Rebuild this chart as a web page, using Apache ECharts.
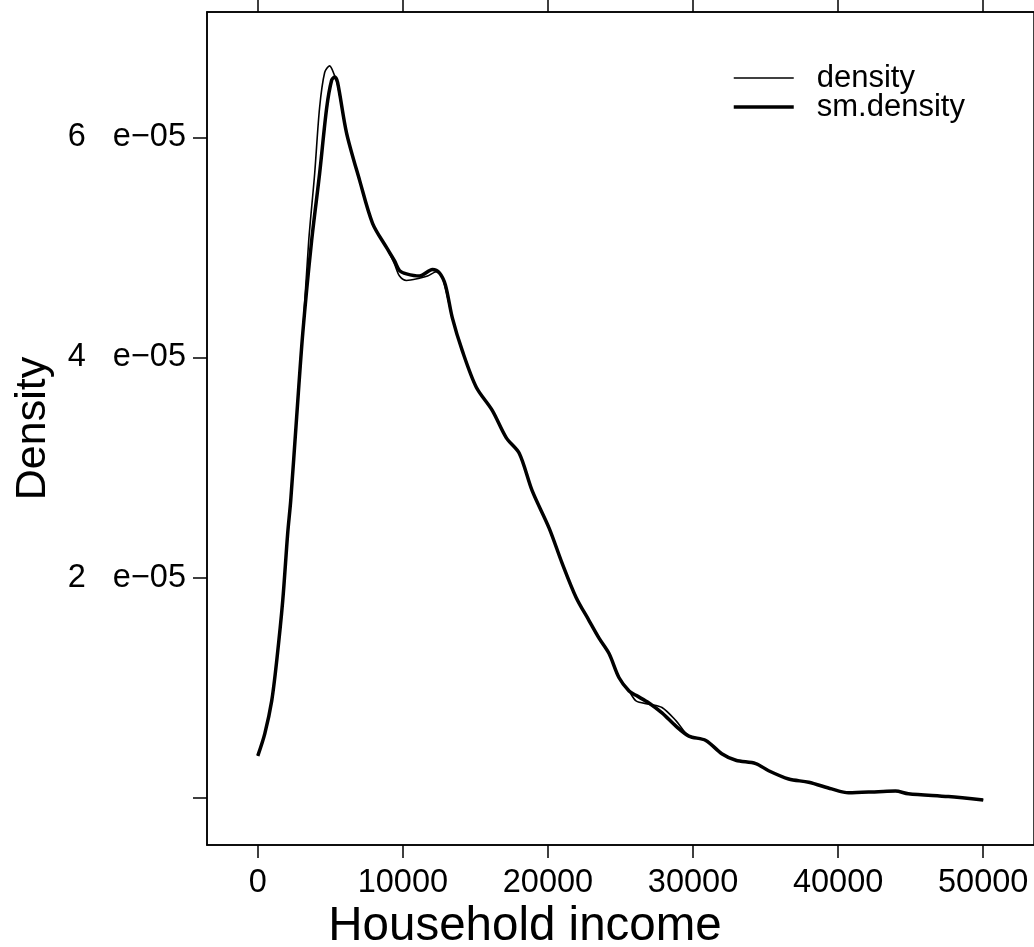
<!DOCTYPE html>
<html>
<head>
<meta charset="utf-8">
<script src="https://cdn.jsdelivr.net/npm/echarts@6/dist/echarts.min.js"></script>
<style>html,body{margin:0;padding:0;background:#fff}#c{width:1034px;height:947px}</style>
</head>
<body>
<div id="c"></div>
<script>
// Household income values (x) and density values (in units of 1e-05)
var densityX = [0,480,960,1310,1720,2060,2270,2680,3100,3510,3920,4260,4610,4950,5300,5500,6120,7020,7910,8870,9420,9770,10250,11140,11700,12310,12720,13410,14100,15060,16160,17130,18020,18910,20080,20980,21940,22830,23520,24210,24900,25590,26070,26960,27860,28820,29710,30880,31980,32950,34320,35210,36590,37970,39550,40720,42780,43950,44840,47600,50000];
var densityY = [0.38,0.58,0.88,1.25,1.79,2.40,2.70,3.46,4.22,5.06,5.67,6.27,6.59,6.65,6.56,6.48,6.04,5.61,5.22,5.00,4.85,4.74,4.70,4.72,4.74,4.78,4.73,4.36,4.06,3.73,3.52,3.27,3.13,2.79,2.45,2.13,1.82,1.61,1.45,1.31,1.09,0.97,0.88,0.85,0.82,0.70,0.56,0.52,0.40,0.34,0.31,0.245,0.17,0.14,0.08,0.045,0.055,0.06,0.036,0.01,-0.02];
var smX = [0,480,960,1310,1720,2060,2270,2680,3100,3710,4260,4750,5090,5300,5500,6120,7020,7910,8870,9420,9770,10250,11140,12040,12520,12930,13410,14100,15060,16160,17130,18020,18910,20080,20980,21940,22830,23520,24210,24900,25590,26070,26960,27860,28820,29710,30880,31980,32950,34320,35210,36590,37970,39550,40720,42780,43950,44840,47600,50000];
var smY = [0.38,0.58,0.88,1.25,1.79,2.40,2.70,3.46,4.22,5.06,5.67,6.27,6.52,6.55,6.50,6.04,5.61,5.22,5.00,4.88,4.79,4.76,4.74,4.80,4.77,4.66,4.36,4.06,3.73,3.52,3.27,3.13,2.79,2.45,2.13,1.82,1.61,1.45,1.31,1.09,0.97,0.93,0.86,0.77,0.65,0.56,0.52,0.40,0.34,0.31,0.245,0.17,0.14,0.08,0.045,0.055,0.06,0.036,0.01,-0.02];
var xTicks = [0,10000,20000,30000,40000,50000];
var yTicks = [0,2e-5,4e-5,6e-5];
var yLabels = [2e-5,4e-5,6e-5];

function pairs(xs, ys){ return xs.map(function(x,i){ return [x, ys[i]*1e-5]; }); }

var FONT = '"Liberation Sans", Arial, Helvetica, sans-serif';
var chart = echarts.init(document.getElementById('c'), null, {renderer:'canvas'});
chart.setOption({
  animation: false,
  backgroundColor: '#fff',
  title: [{
    text: 'Household income', left: 520, top: 898, textAlign: 'center',
    textStyle: {fontFamily: FONT, fontSize: 47.5, fontWeight: 'normal', color: '#000', lineHeight: 48}
  }],
  legend: {
    orient: 'vertical', left: 727, top: 56, itemWidth: 60, itemHeight: 28, itemGap: -5,
    itemStyle: {opacity: 0},
    textStyle: {fontFamily: FONT, fontSize: 31, color: '#000', lineHeight: 26, padding: [8,0,0,18]},
    data: [
      {name: 'density', lineStyle: {width: 1.5, color: '#000'}},
      {name: 'sm.density', lineStyle: {width: 3.5, color: '#000'}}
    ]
  },
  grid: {left: 207, top: 12, width: 828, height: 833, show: true, borderColor: '#000', borderWidth: 1.5, containLabel: false},
  xAxis: [{
    type: 'value', min: -3500, max: 53500, position: 'bottom',
    axisLine: {show: true, onZero: false, lineStyle: {color: '#000', width: 1.5}},
    axisTick: {show: true, length: 13, inside: false, customValues: xTicks, lineStyle: {color: '#000', width: 1.5}},
    axisLabel: {show: true, customValues: xTicks, margin: 22, fontFamily: FONT, fontSize: 32.5, color: '#000',
      formatter: function(v){ return String(v); }},
    splitLine: {show: false}
  },{
    type: 'value', min: -3500, max: 53500, position: 'top',
    axisLine: {show: true, onZero: false, lineStyle: {color: '#000', width: 1.5}},
    axisTick: {show: true, length: 12, inside: false, customValues: xTicks, lineStyle: {color: '#000', width: 1.5}},
    axisLabel: {show: false},
    splitLine: {show: false}
  }],
  yAxis: {
    type: 'value', min: -0.43e-5, max: 7.14e-5,
    name: 'Density', nameLocation: 'middle', nameGap: 152, nameRotate: 90,
    nameTextStyle: {fontFamily: FONT, fontSize: 43, color: '#000'},
    axisLine: {show: true, onZero: false, lineStyle: {color: '#000', width: 1.5}},
    axisTick: {show: true, length: 14, inside: false, customValues: yTicks, lineStyle: {color: '#000', width: 1.5}},
    axisLabel: {show: true, customValues: yLabels, margin: 21, fontFamily: FONT, fontSize: 32.5, color: '#000',
      formatter: function(v){ return Math.round(v*1e5) + '   e\u221205'; }},
    splitLine: {show: false}
  },
  series: [{
    name: 'density', type: 'line', data: pairs(densityX, densityY), smooth: 0.3,
    symbol: 'none', lineStyle: {color: '#000', width: 1.6}, itemStyle: {color: '#000'}, z: 2
  },{
    name: 'sm.density', type: 'line', data: pairs(smX, smY), smooth: 0.3,
    symbol: 'none', lineStyle: {color: '#000', width: 3.5}, itemStyle: {color: '#000'}, z: 3
  }]
});
</script>
</body>
</html>
